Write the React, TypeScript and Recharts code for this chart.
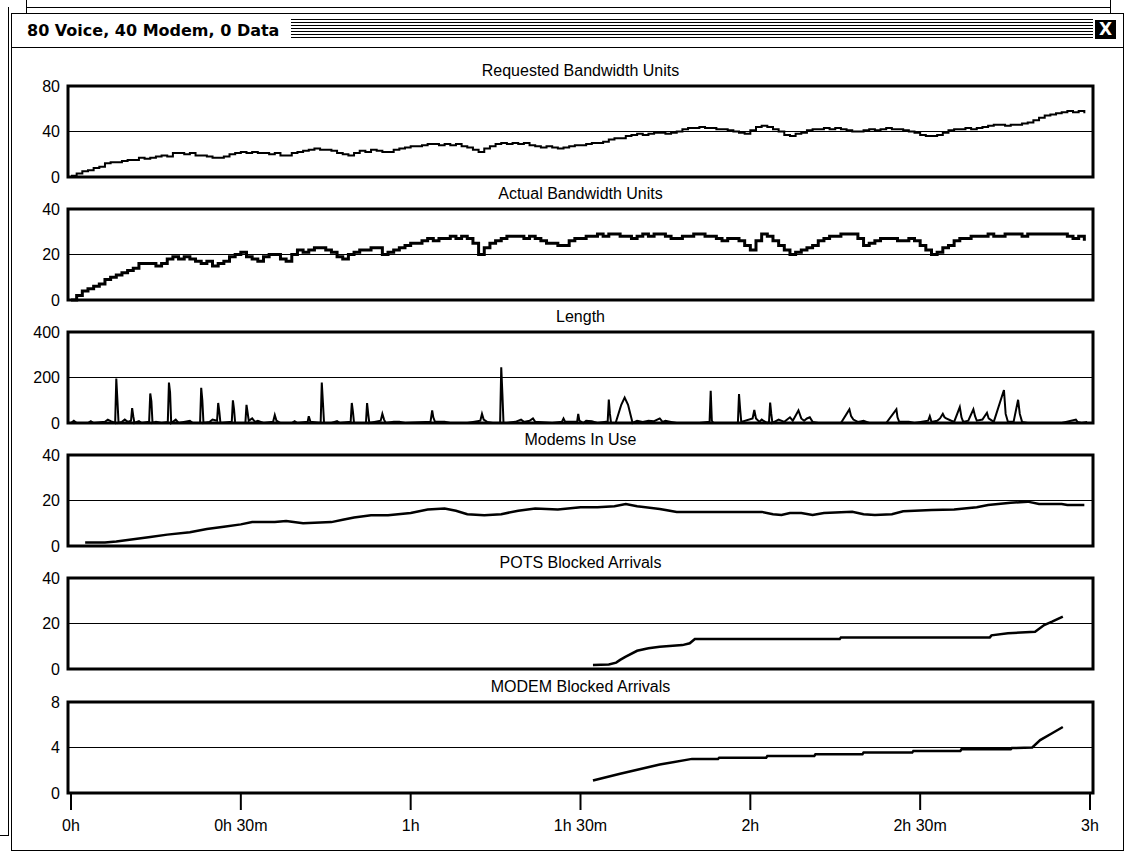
import {
  LineChart,
  Line,
  XAxis,
  YAxis,
  ReferenceLine,
  ReferenceArea,
} from "recharts";

// minutes 0..179, one reading per minute
const requestedUnits = [
  1, 3, 5, 6, 8, 9, 12, 13, 13, 14, 15, 15, 17, 16, 17, 18, 19, 18, 21, 21,
  20, 21, 19, 19, 18, 17, 17, 18, 20, 21, 22, 21, 22, 21, 21, 20, 21, 19, 19, 21,
  22, 23, 24, 25, 24, 24, 23, 21, 20, 19, 21, 23, 22, 24, 23, 22, 22, 24, 25, 26,
  27, 27, 28, 29, 29, 28, 29, 28, 29, 27, 26, 24, 22, 25, 27, 29, 30, 29, 30, 29,
  30, 28, 27, 26, 27, 26, 25, 26, 27, 28, 28, 29, 30, 30, 31, 33, 34, 34, 36, 37,
  38, 37, 38, 39, 39, 38, 39, 40, 42, 43, 43, 44, 43, 43, 42, 42, 41, 40, 39, 38,
  41, 44, 45, 44, 42, 40, 37, 36, 38, 39, 41, 42, 42, 43, 42, 43, 42, 41, 40, 40,
  41, 42, 41, 42, 43, 42, 42, 41, 40, 39, 37, 36, 36, 37, 39, 41, 42, 42, 43, 42,
  43, 44, 45, 46, 46, 45, 46, 46, 47, 48, 50, 52, 54, 55, 56, 57, 58, 57, 58, 56,
];

const actualUnits = [
  0, 2, 4, 5, 6, 7, 9, 10, 11, 12, 13, 14, 16, 16, 16, 15, 16, 18, 19, 18,
  19, 18, 17, 16, 17, 15, 16, 17, 19, 20, 21, 19, 18, 17, 19, 20, 20, 18, 17, 20,
  22, 21, 22, 23, 23, 22, 21, 19, 18, 20, 21, 22, 22, 23, 23, 20, 21, 22, 23, 24,
  25, 25, 26, 27, 26, 27, 27, 28, 27, 28, 27, 25, 20, 23, 25, 26, 27, 28, 28, 28,
  27, 28, 27, 26, 25, 25, 24, 24, 26, 27, 27, 28, 28, 29, 28, 29, 29, 28, 28, 27,
  28, 29, 28, 29, 29, 28, 27, 27, 28, 28, 29, 29, 28, 28, 27, 26, 27, 27, 26, 24,
  22, 26, 29, 28, 26, 24, 22, 20, 21, 22, 23, 24, 26, 27, 28, 28, 29, 29, 29, 27,
  24, 25, 26, 27, 27, 27, 26, 26, 27, 26, 24, 22, 20, 21, 23, 24, 26, 27, 27, 28,
  28, 28, 29, 28, 28, 29, 29, 29, 28, 29, 29, 29, 29, 29, 29, 29, 28, 27, 28, 26,
];

const lengthTimes = [
  0, 0.5, 1, 3, 3.5, 4, 6, 6.5, 7, 7.8, 8, 8.2, 8.4, 9, 9.5, 10, 10.6, 10.8, 11, 11.2,
  12, 12.5, 13.8, 14, 14.2, 14.4, 15, 16, 17.1, 17.3, 17.5, 17.7, 18.5, 19, 21, 21.5,
  22.8, 23, 23.2, 23.4, 24.5, 25, 25.8, 26, 26.2, 26.4, 28.4, 28.6, 28.8, 29, 30.8, 31,
  31.2, 31.4, 32, 32.5, 33, 34, 35.7, 36, 36.3, 37, 39, 39.5, 40, 41.8, 42, 42.3, 44.1,
  44.3, 44.5, 44.7, 46, 47, 47.5, 49.4, 49.6, 49.8, 50, 52.1, 52.3, 52.5, 52.7, 54.7,
  55, 55.3, 55.6, 57, 58, 59, 63.5, 63.8, 64, 64.3, 66, 67, 70, 72.3, 72.6, 72.9, 73.5,
  74.5, 75.8, 76, 76.2, 76.4, 77, 78.5, 79.5, 80, 81, 81.6, 82, 85, 86.7, 87, 87.3, 89.4,
  89.6, 89.8, 90.5, 91, 92, 93, 94.5, 94.8, 95, 95.2, 95.4, 96.2, 97.2, 97.8, 98.4, 99.2,
  100, 101, 102, 103, 104, 104.5, 105, 106, 107, 111, 112.8, 113, 113.2, 113.5, 115,
  117.8, 118, 118.2, 118.4, 120.4, 120.7, 121, 121.6, 122, 123, 123.3, 123.5, 123.7,
  123.9, 125, 126, 127, 127.5, 128.5, 129, 129.5, 130, 130.5, 131, 132, 136, 137.5,
  137.8, 138.2, 139, 140, 141, 144, 145.8, 146, 146.3, 148, 149, 151.4, 151.7, 152, 153,
  153.5, 154, 154.3, 154.6, 155.5, 156, 157, 157.3, 157.6, 158.5, 159.4, 159.7, 160, 161,
  161.8, 162.1, 163, 164.8, 165.1, 165.5, 166.5, 167.3, 167.6, 168, 169, 175, 177.5,
  177.8, 178.5, 179.5,
];
const lengthValues = [
  0, 10, 0, 0, 8, 0, 5, 15, 8, 0, 195, 100, 0, 5, 15, 5, 10, 65, 30, 0,
  8, 0, 5, 130, 95, 0, 5, 0, 5, 178, 135, 0, 15, 0, 10, 0,
  0, 155, 100, 0, 5, 15, 10, 88, 50, 0, 5, 100, 60, 0, 0, 80,
  45, 10, 20, 5, 10, 0, 5, 35, 10, 0, 0, 8, 0, 5, 30, 5, 0,
  178, 90, 0, 0, 8, 0, 5, 88, 50, 0, 0, 88, 40, 0, 10,
  40, 15, 0, 5, 5, 0, 5, 55, 25, 5, 5, 0, 0, 10, 40, 15, 5,
  0, 0, 245, 130, 0, 0, 5, 15, 5, 10, 20, 5, 0, 5, 20, 5, 5,
  40, 10, 0, 10, 8, 0, 5, 5, 103, 40, 0, 0, 80, 112, 80, 0,
  10, 5, 10, 8, 20, 5, 10, 5, 0, 0, 5, 142, 10, 0, 0,
  0, 127, 60, 5, 20, 57, 20, 5, 15, 0, 5, 90, 40,
  0, 15, 5, 25, 10, 55, 20, 10, 20, 25, 5, 0, 0, 60,
  30, 15, 5, 10, 0, 0, 60, 25, 5, 5, 0, 10, 30, 5, 10,
  20, 40, 25, 20, 10, 5, 70, 25, 5, 10, 60, 30, 10, 15,
  45, 20, 5, 145, 40, 5, 5, 102, 40, 5, 0, 0, 15,
  5, 0, 5,
];

const modemTimes = [
  2.5, 6, 8, 11, 14, 17, 21, 24, 27, 30, 32, 36, 38, 41, 46, 48, 50, 53, 56, 60,
  63, 66, 68, 70, 73, 76, 79, 82, 86, 90, 93, 96, 98, 100, 104, 107, 113, 122, 124,
  125.5, 127, 129, 131, 133, 138, 140, 142, 145, 147, 152, 156, 160, 162, 166, 169,
  171, 175, 176, 179,
];
const modemValues = [
  1.5, 1.5, 2, 3, 4, 5, 6, 7.5, 8.5, 9.5, 10.5, 10.5, 11, 10, 10.5, 11.5, 12.5, 13.5,
  13.5, 14.5, 16, 16.5, 15.5, 14, 13.5, 14, 15.5, 16.5, 16, 17, 17, 17.5, 18.5, 17.5,
  16.3, 15, 15, 15, 14, 13.6, 14.5, 14.5, 13.6, 14.5, 15, 14, 13.6, 14, 15.3, 15.8, 16,
  17, 18, 19, 19.5, 18.5, 18.5, 18, 18,
];

const potsTimes = [
  92.2, 95, 96.3, 97, 98, 100, 102, 104, 108, 109.3, 110.2, 135.8, 136, 162.3, 162.6,
  165.5, 170.3, 171.9, 173.3, 175.2,
];
const potsValues = [
  1.8, 2, 2.8, 4, 5.4, 8, 9.1, 9.8, 10.5, 11.3, 13.2, 13.2, 13.9, 13.9, 14.8, 15.7,
  16.4, 19.3, 20.8, 23,
];

const modemBlockedTimes = [
  92.2, 97, 104, 109.7, 114.3, 114.5, 122.8, 123, 131.3, 131.5, 139.8, 140, 148.6,
  148.8, 157.1, 157.3, 166, 166.2, 169.8, 171.2, 173.3, 175.2,
];
const modemBlockedValues = [
  1.1, 1.7, 2.5, 3.0, 3.0, 3.1, 3.1, 3.25, 3.25, 3.4, 3.4, 3.55, 3.55, 3.7, 3.7, 3.85,
  3.85, 3.95, 4.0, 4.65, 5.25, 5.8,
];

const xTicks = [0, 30, 60, 90, 120, 150, 180];
const xTickLabels = ["0h", "0h 30m", "1h", "1h 30m", "2h", "2h 30m", "3h"];

const X_DOMAIN: [number, number] = [-0.53, 180.53];
const FONT = "'Liberation Sans', Arial, sans-serif";

const toRows = (times: number[], values: number[]) =>
  times.map((t, i) => ({ t, v: values[i] }));
const byMinute = (values: number[]) => values.map((v, t) => ({ t, v }));

interface PanelProps {
  title: string;
  rows: { t: number; v: number }[];
  yMax: number;
  plotTop: number;
  strokeWidth: number;
  step?: boolean;
  showXAxis?: boolean;
}

function Panel({ title, rows, yMax, plotTop, strokeWidth, step, showXAxis }: PanelProps) {
  const height = showXAxis ? 150 : 111;
  return (
    <>
      <div
        style={{
          position: "absolute",
          left: 68,
          width: 1025,
          top: plotTop - 24,
          height: 18,
          lineHeight: "18px",
          textAlign: "center",
          fontSize: 16,
          fontFamily: FONT,
          color: "#000",
        }}
      >
        {title}
      </div>
      <div style={{ position: "absolute", left: 0, top: plotTop - 10 }}>
        <LineChart
          width={1100}
          height={height}
          data={rows}
          margin={{ top: 10, right: 7, bottom: showXAxis ? 0 : 10, left: 8 }}
        >
          <XAxis
            type="number"
            dataKey="t"
            domain={X_DOMAIN}
            ticks={xTicks}
            interval={0}
            hide={!showXAxis}
            height={49}
            axisLine={false}
            tickSize={17}
            tickMargin={10}
            tickLine={{ stroke: "#000", strokeWidth: 2 }}
            tick={{ fontSize: 16, fontFamily: FONT, fill: "#000" }}
            tickFormatter={(v: number) => xTickLabels[xTicks.indexOf(v)] ?? ""}
          />
          <YAxis
            type="number"
            domain={[0, yMax]}
            ticks={[0, yMax / 2, yMax]}
            interval={0}
            width={60}
            axisLine={false}
            tickLine={false}
            tick={{ fontSize: 16, fontFamily: FONT, fill: "#000" }}
          />
          <ReferenceLine y={yMax / 2} stroke="#000" strokeWidth={1} />
          <Line
            type={step ? "stepAfter" : "linear"}
            dataKey="v"
            stroke="#000"
            strokeWidth={strokeWidth}
            dot={false}
            isAnimationActive={false}
          />
          <ReferenceArea
            x1={X_DOMAIN[0]}
            x2={X_DOMAIN[1]}
            y1={0}
            y2={yMax}
            fill="none"
            fillOpacity={0}
            stroke="#000"
            strokeWidth={3}
            ifOverflow="visible"
          />
        </LineChart>
      </div>
    </>
  );
}

export default function App() {
  return (
    <div
      style={{
        position: "absolute",
        left: 0,
        top: 0,
        width: 1127,
        height: 852,
        background: "#fff",
        overflow: "hidden",
      }}
    >
      {/* window frame */}
      <div style={{ position: "absolute", left: 26, top: 7, width: 1085, height: 1, background: "#000" }} />
      <div style={{ position: "absolute", left: 26, top: 0, width: 1, height: 13, background: "#000" }} />
      <div style={{ position: "absolute", left: 1110, top: 0, width: 1, height: 13, background: "#000" }} />
      <div style={{ position: "absolute", left: 8, top: 7, width: 1, height: 828, background: "#000" }} />
      <div style={{ position: "absolute", left: 0, top: 835, width: 9, height: 1, background: "#000" }} />
      <div
        style={{
          position: "absolute",
          left: 11,
          top: 13,
          width: 1113,
          height: 838,
          border: "1px solid #000",
          boxSizing: "border-box",
        }}
      />
      <div style={{ position: "absolute", left: 12, top: 47, width: 1111, height: 1, background: "#000" }} />
      <div
        style={{
          position: "absolute",
          left: 27,
          top: 21,
          fontFamily: "'DejaVu Sans', sans-serif",
          fontWeight: "bold",
          fontSize: 16,
          lineHeight: "20px",
          color: "#000",
          whiteSpace: "nowrap",
        }}
      >
        80 Voice, 40 Modem, 0 Data
      </div>
      <div
        style={{
          position: "absolute",
          left: 291,
          top: 19,
          width: 802,
          height: 20,
          background:
            "repeating-linear-gradient(to bottom, #000 0px, #000 1px, transparent 1px, transparent 3px)",
        }}
      />
      <div
        style={{
          position: "absolute",
          left: 1095,
          top: 20,
          width: 21,
          height: 19,
          background: "#000",
          color: "#fff",
          fontFamily: "'DejaVu Sans', sans-serif",
          fontWeight: "bold",
          fontSize: 17,
          lineHeight: "19px",
          textAlign: "center",
        }}
      >
        X
      </div>

      <Panel title="Requested Bandwidth Units" rows={byMinute(requestedUnits)} yMax={80} plotTop={86} strokeWidth={2} step />
      <Panel title="Actual Bandwidth Units" rows={byMinute(actualUnits)} yMax={40} plotTop={209} strokeWidth={3} step />
      <Panel title="Length" rows={toRows(lengthTimes, lengthValues)} yMax={400} plotTop={332} strokeWidth={2} />
      <Panel title="Modems In Use" rows={toRows(modemTimes, modemValues)} yMax={40} plotTop={455} strokeWidth={2.5} />
      <Panel title="POTS Blocked Arrivals" rows={toRows(potsTimes, potsValues)} yMax={40} plotTop={578} strokeWidth={2.5} />
      <Panel
        title="MODEM Blocked Arrivals"
        rows={toRows(modemBlockedTimes, modemBlockedValues)}
        yMax={8}
        plotTop={702}
        strokeWidth={2.5}
        showXAxis
      />
    </div>
  );
}
